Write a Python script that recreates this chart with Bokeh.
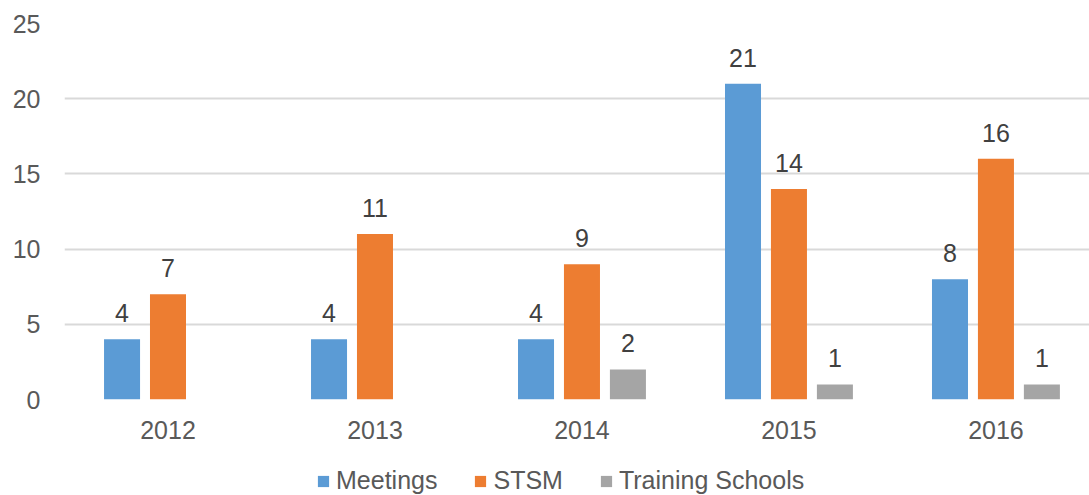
from bokeh.plotting import figure
from bokeh.models import ColumnDataSource, FixedTicker, Legend, LegendItem
from bokeh.layouts import column
from bokeh.transform import dodge
from bokeh.core.properties import value
from bokeh.embed import file_html
from bokeh.resources import INLINE

years = ["2012", "2013", "2014", "2015", "2016"]
meetings = [4, 4, 4, 21, 8]
stsm = [7, 11, 9, 14, 16]
training = [0, 0, 2, 1, 1]
series_names = ["Meetings", "STSM", "Training Schools"]
colors = ["#5B9BD5", "#ED7D31", "#A5A5A5"]

FONT = "Liberation Sans"
FS = "25px"
idx = list(range(len(years)))

src = ColumnDataSource(data=dict(x=idx, meetings=meetings, stsm=stsm, training=training))

p = figure(width=1089, height=458, output_backend="svg", toolbar_location=None,
           x_range=(-0.5, 4.452), y_range=(0, 25),
           min_border_left=64, min_border_right=0, min_border_top=23, min_border_bottom=59)
p.outline_line_color = None
p.background_fill_color = "white"

offsets = [-0.222, 0.0, 0.222]
cols = ["meetings", "stsm", "training"]
renderers = []
for col, off, c in zip(cols, offsets, colors):
    renderers.append(p.vbar(x=dodge("x", off), top=col, width=0.174, source=src,
                            fill_color=c, line_color=None))

# data labels (skip zero values)
for vals, off in zip([meetings, stsm, training], offsets):
    lx = [i for i, v in zip(idx, vals) if v > 0]
    ly = [v for v in vals if v > 0]
    lt = [str(v) for v in vals if v > 0]
    lsrc = ColumnDataSource(data=dict(x=lx, y=ly, t=lt))
    p.text(x=dodge("x", off), y="y", text="t", source=lsrc,
           text_font=value(FONT), text_font_size=FS, text_color="#404040",
           text_align="center", text_baseline="alphabetic", y_offset=-26)

# axes
p.xaxis.ticker = FixedTicker(ticks=idx)
p.xaxis.major_label_overrides = {i: y for i, y in zip(idx, years)}
p.xaxis.major_label_text_font = FONT
p.xaxis.major_label_text_font_size = FS
p.xaxis.major_label_text_color = "#595959"
p.xaxis.major_label_standoff = 15
p.xaxis.axis_line_color = None
p.xaxis.major_tick_line_color = None
p.xaxis.minor_tick_line_color = None

p.yaxis.ticker = FixedTicker(ticks=[0, 5, 10, 15, 20, 25])
p.yaxis.major_label_text_font = FONT
p.yaxis.major_label_text_font_size = FS
p.yaxis.major_label_text_color = "#595959"
p.yaxis.major_label_standoff = 18
p.yaxis.axis_line_color = None
p.yaxis.major_tick_line_color = None
p.yaxis.minor_tick_line_color = None

p.xgrid.grid_line_color = None
p.ygrid.grid_line_color = "#D9D9D9"
p.ygrid.grid_line_width = 2

# legend strip below the chart (swatches use the chart's colours; markers sit off-range)
q = figure(width=1089, height=37, output_backend="svg", toolbar_location=None,
           x_range=(0, 1), y_range=(0, 1), x_axis_location=None, y_axis_location=None,
           min_border=0, min_border_left=0, min_border_right=0,
           min_border_top=0, min_border_bottom=0)
q.grid.visible = False
q.outline_line_color = None
dummy = []
for c in colors:
    dummy.append(q.vbar(x=[-5], top=[-5], width=0.1, fill_color=c, line_color=None))

legend = Legend(items=[LegendItem(label=n, renderers=[r]) for n, r in zip(series_names, dummy)],
                orientation="horizontal", location=(252, 0),
                label_text_font=FONT, label_text_font_size=FS, label_text_color="#595959",
                glyph_width=14, glyph_height=14, label_standoff=6, spacing=36,
                padding=0, margin=0, border_line_color=None, background_fill_alpha=0,
                label_height=24)
q.add_layout(legend, "center")

layout = column(p, q, spacing=0)
open("out.html", "w").write(file_html(layout, INLINE))
